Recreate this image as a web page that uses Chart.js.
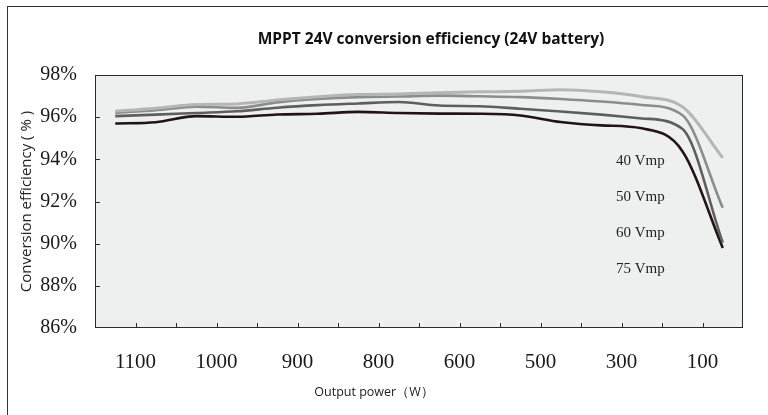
<!DOCTYPE html>
<html><head><meta charset="utf-8">
<script src="https://cdn.jsdelivr.net/npm/chart.js@4/dist/chart.umd.min.js"></script>
<style>
html,body{margin:0;padding:0;background:#fff;}
#wrap{position:relative;width:768px;height:415px;overflow:hidden;}
#frame{position:absolute;left:7px;top:6px;width:800px;height:500px;border-left:1px solid #333;border-top:1px solid #333;pointer-events:none;}
canvas{display:block;}
</style></head><body>
<div id="wrap"><canvas id="c" width="768" height="415"></canvas><div id="frame"></div></div>
<script>
const chartTitle = 'MPPT 24V conversion efficiency (24V battery)';
const xAxisTitle = 'Output power\uFF08W\uFF09';
const yAxisTitle = 'Conversion efficiency ( % )';
const xTickLabels = ['1100','1000','900','800','600','500','300','100'];
const seriesNames = ['40 Vmp','50 Vmp','60 Vmp','75 Vmp'];
const seriesColors = ['#b5b5b5','#8c8c8c','#5e5e5e','#221414'];
const vmp40 = [96.28, 96.42, 96.6, 96.63, 96.82, 96.97, 97.07, 97.1, 97.16, 97.2, 97.23, 97.3, 97.2, 96.97, 96.5, 94.07];
const vmp50 = [96.2, 96.33, 96.5, 96.44, 96.7, 96.86, 96.95, 96.98, 97.02, 96.99, 96.95, 96.86, 96.74, 96.58, 96.1, 91.7];
const vmp60 = [96.05, 96.12, 96.2, 96.28, 96.45, 96.57, 96.65, 96.72, 96.55, 96.52, 96.4, 96.27, 96.12, 95.94, 95.45, 90.05];
const vmp75 = [95.7, 95.76, 96.05, 96.02, 96.13, 96.16, 96.25, 96.2, 96.17, 96.16, 96.08, 95.77, 95.61, 95.47, 94.4, 89.8];
const allSeries = [vmp40, vmp50, vmp60, vmp75];

const SERIF = '"Liberation Serif", "Times New Roman", serif';
const SANS = '"Open Sans", "Noto Sans", sans-serif';

const decor = {
  id: 'decor',
  beforeDraw(chart) {
    const a = chart.chartArea, ctx = chart.ctx;
    ctx.save();
    ctx.fillStyle = '#eef0ef';
    ctx.fillRect(a.left, a.top, a.right - a.left, a.bottom - a.top);
    ctx.restore();
  },
  afterDatasetsDraw(chart) {
    const a = chart.chartArea, ctx = chart.ctx;
    const xs = chart.scales.x, ys = chart.scales.y;
    ctx.save();
    ctx.strokeStyle = '#2a2a2a';
    ctx.lineWidth = 1;
    ctx.strokeRect(Math.round(a.left) + 0.5, Math.round(a.top) + 0.5, Math.round(a.right - a.left) - 1, Math.round(a.bottom - a.top) - 1);
    ctx.beginPath();
    for (let v = 1; v <= 15; v++) {
      const px = Math.round(xs.getPixelForValue(v)) + 0.5;
      ctx.moveTo(px, a.bottom);
      ctx.lineTo(px, a.bottom - 5);
    }
    for (let v = 88; v <= 96; v += 2) {
      const py = Math.round(ys.getPixelForValue(v)) + 0.5;
      ctx.moveTo(a.left, py);
      ctx.lineTo(a.left + 5, py);
    }
    ctx.stroke();
    // series labels
    ctx.fillStyle = '#222';
    ctx.font = '15px ' + SERIF;
    ctx.textAlign = 'left';
    ctx.textBaseline = 'middle';
    seriesNames.forEach((n, i) => {
      ctx.fillText(n, a.right - 127, a.top + 86 + 36 * i);
    });
    // chart title
    ctx.fillStyle = '#111';
    ctx.font = 'bold 15.5px ' + SANS;
    ctx.textAlign = 'center';
    ctx.fillText(chartTitle, 431, 40);
    // x axis title
    ctx.fillStyle = '#222';
    ctx.font = '12.5px ' + SANS;
    ctx.fillText(xAxisTitle, 374, 392);
    ctx.restore();
  }
};

new Chart(document.getElementById('c'), {
  type: 'line',
  data: {
    datasets: allSeries.map((s, i) => ({
      label: seriesNames[i],
      data: s.map((v, k) => ({x: k + 0.5, y: v})),
      borderColor: seriesColors[i],
      borderWidth: i === 0 ? 3 : 2.6,
      pointRadius: 0,
      fill: false,
      cubicInterpolationMode: 'monotone'
    }))
  },
  options: {
    responsive: false,
    devicePixelRatio: 1,
    animation: false,
    layout: { padding: { top: 75, right: 25, bottom: 0, left: 0 } },
    plugins: { legend: { display: false }, tooltip: { enabled: false }, title: { display: false } },
    scales: {
      x: {
        type: 'linear', min: 0, max: 16,
        grid: { display: false },
        border: { display: false },
        afterFit(s) { s.height = 87; },
        ticks: {
          stepSize: 1, autoSkip: false, maxRotation: 0, padding: 14,
          color: '#1a1a1a',
          font: { family: SERIF, size: 21 },
          callback: (v) => (v % 2 === 1) ? xTickLabels[(v - 1) / 2] : ''
        }
      },
      y: {
        min: 86, max: 98,
        grid: { display: false, drawTicks: false },
        border: { display: false },
        afterFit(s) { s.width = 95; },
        title: { display: true, text: yAxisTitle, color: '#222', font: { family: SANS, size: 15 }, padding: { top: 18, bottom: 0 } },
        ticks: {
          stepSize: 2, padding: 18,
          color: '#1a1a1a',
          font: { family: SERIF, size: 20 },
          callback: (v) => v + '%'
        }
      }
    }
  },
  plugins: [decor]
});
</script>
</body></html>
